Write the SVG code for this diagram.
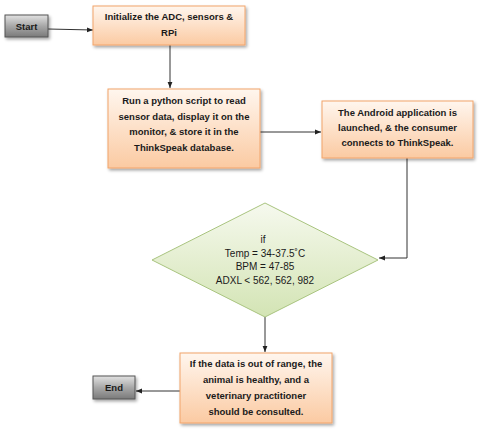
<svg xmlns="http://www.w3.org/2000/svg" width="480" height="431" viewBox="0 0 480 431">
<defs>
<linearGradient id="gOr" x1="0" y1="0" x2="0" y2="1"><stop offset="0" stop-color="#fff6ee"/><stop offset="1" stop-color="#fbcaa2"/></linearGradient>
<linearGradient id="gGr" x1="0" y1="0" x2="0" y2="1"><stop offset="0" stop-color="#f6f9ee"/><stop offset="1" stop-color="#d3e4b4"/></linearGradient>
<linearGradient id="gGy" x1="0" y1="0" x2="0" y2="1"><stop offset="0" stop-color="#e2e2e2"/><stop offset="0.5" stop-color="#a8a8a8"/><stop offset="1" stop-color="#7a7a7a"/></linearGradient>
<filter id="sh" x="-20%" y="-20%" width="140%" height="150%"><feDropShadow dx="1.5" dy="2" stdDeviation="1.5" flood-color="#000" flood-opacity="0.35"/></filter>
<marker id="ar" viewBox="0 0 10 10" refX="10" refY="5" markerWidth="6" markerHeight="6" orient="auto"><path d="M0,1 L10,5 L0,9 z" fill="#222"/></marker>
</defs>
<style>
.proc{fill:url(#gOr);stroke:#f2a46a;stroke-width:1;filter:url(#sh)}
.term{fill:url(#gGy);stroke:#555;stroke-width:1;filter:url(#sh)}
.dia{fill:url(#gGr);stroke:#a9c47f;stroke-width:1}
.t{font-family:"Liberation Sans",Arial,sans-serif;font-size:9.5px;font-weight:bold;fill:#1a1a1a;text-anchor:middle}
.d{font-family:"Liberation Sans",Arial,sans-serif;font-size:10px;fill:#1a1a1a;text-anchor:middle}
.c{fill:none;stroke:#333;stroke-width:1;marker-end:url(#ar)}
</style>
<rect width="480" height="431" fill="#fff"/>
<g id="connectors">
<path class="c" d="M48,29 L93,30"/>
<path class="c" d="M170,45 L170,88"/>
<path class="c" d="M260,132 L321,132"/>
<path class="c" d="M407,158 L407,258 L379,258"/>
<path class="c" d="M265,317 L265,352"/>
<path class="c" d="M180,391 L136,391"/>
</g>
<g id="start">
<rect class="term" x="5" y="15" width="43" height="22"/>
<text class="t" x="26.5" y="29.5">Start</text>
</g>
<g id="init">
<rect class="proc" x="93" y="6" width="152" height="39"/>
<text class="t" x="169" y="20">Initialize the ADC, sensors &amp;</text>
<text class="t" x="169" y="36">RPi</text>
</g>
<g id="run">
<rect class="proc" x="108" y="89" width="152" height="79"/>
<text class="t" x="184" y="104">Run a python script to read</text>
<text class="t" x="184" y="119.5">sensor data, display it on the</text>
<text class="t" x="184" y="135">monitor, &amp; store it in the</text>
<text class="t" x="184" y="150.5">ThinkSpeak database.</text>
</g>
<g id="android">
<rect class="proc" x="322" y="101" width="151" height="57"/>
<text class="t" x="397.5" y="115.5">The Android application is</text>
<text class="t" x="397.5" y="130.5">launched, &amp; the consumer</text>
<text class="t" x="397.5" y="145.5">connects to ThinkSpeak.</text>
</g>
<g id="decision">
<polygon class="dia" points="265,203 378,260 265,317 152,260"/>
<text class="d" x="263" y="243">if</text>
<text class="d" x="265" y="256.5">Temp = 34-37.5˚C</text>
<text class="d" x="265" y="270">BPM = 47-85</text>
<text class="d" x="265" y="283.5">ADXL &lt; 562, 562, 982</text>
</g>
<g id="outcome">
<rect class="proc" x="180" y="353" width="152" height="70"/>
<text class="t" x="256" y="367">If the data is out of range, the</text>
<text class="t" x="256" y="383">animal is healthy, and a</text>
<text class="t" x="256" y="399">veterinary practitioner</text>
<text class="t" x="256" y="414.5">should be consulted.</text>
</g>
<g id="end">
<rect class="term" x="93" y="376" width="42" height="23"/>
<text class="t" x="114" y="390.5">End</text>
</g>
</svg>
